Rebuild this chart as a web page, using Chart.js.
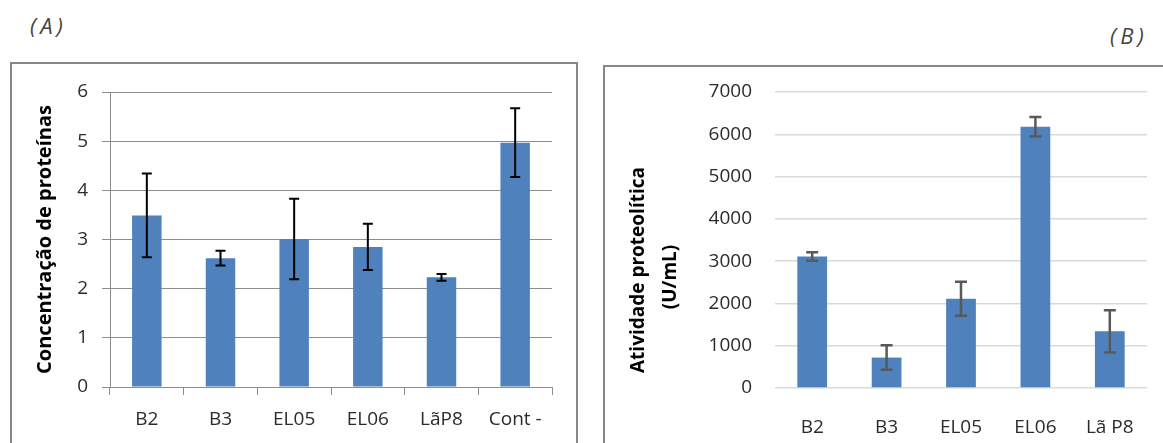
<!DOCTYPE html>
<html><head><meta charset="utf-8">
<script src="https://cdn.jsdelivr.net/npm/chart.js@4/dist/chart.umd.min.js"></script>
<style>
html,body{margin:0;padding:0;background:#fff;width:1163px;height:443px;overflow:hidden;}
.box{position:absolute;border:2px solid #878787;box-sizing:border-box;}
#boxA{left:10px;top:62px;width:568px;height:420px;}
#boxB{left:603px;top:65px;width:600px;height:420px;}
.lab{position:absolute;font-family:"Open Sans";font-style:italic;font-size:22px;letter-spacing:4px;color:#444;line-height:1;}
.wrap{position:absolute;top:0;height:443px;}
</style></head><body>
<div class="box" id="boxA"></div><div class="box" id="boxB"></div>
<div class="lab" style="left:30px;top:14px">(A)</div>
<div class="lab" style="left:1110px;top:24px">(B)</div>
<div class="wrap" style="left:0;width:580px"><canvas id="ca" width="580" height="443"></canvas></div>
<div class="wrap" style="left:590px;width:573px"><canvas id="cb" width="573" height="443"></canvas></div>
<script>
// ---- data ----
const catsA = ['B2', 'B3', 'EL05', 'EL06', 'LãP8', 'Cont -'];
const valsA = [3.49, 2.62, 3.01, 2.85, 2.23, 4.97];
const errA  = [0.85, 0.15, 0.82, 0.47, 0.07, 0.70];
const titleA = 'Concentração de proteínas';

const catsB = ['B2', 'B3', 'EL05', 'EL06', 'Lã P8'];
const valsB = [3110, 720, 2110, 6180, 1340];
const errB  = [100, 290, 400, 230, 500];
const titleB = ['Atividade proteolítica', '(U/mL)'];

const FONT = 'Open Sans';

const errPlugin = {
  id: 'errbars',
  afterDatasetsDraw(chart, args, opts) {
    const meta = chart.getDatasetMeta(0);
    const ys = chart.scales.y;
    const ctx = chart.ctx;
    const vals = chart.data.datasets[0].data;
    const errs = opts.errors;
    ctx.save();
    ctx.strokeStyle = opts.color;
    ctx.lineWidth = opts.width;
    meta.data.forEach((bar, i) => {
      const x = bar.x;
      const yt = ys.getPixelForValue(vals[i] + errs[i]);
      const yb = ys.getPixelForValue(vals[i] - errs[i]);
      ctx.beginPath();
      ctx.moveTo(x, yt); ctx.lineTo(x, yb);
      ctx.moveTo(x - opts.cap, yt); ctx.lineTo(x + opts.cap, yt);
      ctx.moveTo(x - opts.cap, yb); ctx.lineTo(x + opts.cap, yb);
      ctx.stroke();
    });
    ctx.restore();
  }
};

const titleBPlugin = {
  id: 'titleB',
  afterDraw(chart, args, opts) {
    if (!opts.lines) return;
    const ctx = chart.ctx;
    ctx.save();
    ctx.font = 'bold 19px "' + FONT + '"';
    ctx.fillStyle = '#000';
    ctx.textAlign = 'center';
    ctx.textBaseline = 'middle';
    opts.lines.forEach((t, i) => {
      ctx.save();
      ctx.translate(opts.xs[i], opts.ys[i]);
      ctx.rotate(-Math.PI / 2);
      ctx.fillText(t, 0, 0);
      ctx.restore();
    });
    ctx.restore();
  }
};

Chart.register(errPlugin, titleBPlugin);

const tickFont = {family: FONT, size: 19};

new Chart(document.getElementById('ca'), {
  type: 'bar',
  data: {labels: catsA, datasets: [{data: valsA, backgroundColor: '#4f81bd', categoryPercentage: 1, barPercentage: 0.4}]},
  options: {
    responsive: false, animation: false, devicePixelRatio: 1,
    layout: {padding: {left: 20, right: 28, top: 92, bottom: 0}},
    plugins: {legend: {display: false}, tooltip: {enabled: false},
      errbars: {errors: errA, color: '#000', width: 2, cap: 5}},
    scales: {
      x: {ticks: {color: '#2b2b2b', font: tickFont, padding: 13},
          grid: {offset: true, drawOnChartArea: false, drawTicks: true, tickLength: 8, color: '#8e8e8e'},
          border: {display: true, color: '#8e8e8e'},
          afterFit(s) { s.height = 56; }},
      y: {min: 0, max: 6,
          ticks: {stepSize: 1, color: '#2b2b2b', font: tickFont, padding: 14},
          grid: {color: '#8e8e8e', tickLength: 8, drawTicks: true},
          border: {display: true, color: '#8e8e8e'},
          title: {display: true, text: titleA, color: '#000', font: {family: FONT, size: 20, weight: 'bold'}, padding: {top: 13, bottom: 0}},
          afterFit(s) { s.width = 90; }}
    }
  }
});

new Chart(document.getElementById('cb'), {
  type: 'bar',
  data: {labels: catsB, datasets: [{data: valsB, backgroundColor: '#4f81bd', categoryPercentage: 1, barPercentage: 0.4}]},
  options: {
    responsive: false, animation: false, devicePixelRatio: 1,
    layout: {padding: {left: 10, right: 16, top: 92, bottom: 0}},
    plugins: {legend: {display: false}, tooltip: {enabled: false},
      errbars: {errors: errB, color: '#595959', width: 2.5, cap: 6},
      titleB: {lines: titleB, xs: [49, 81], ys: [270, 277]}},
    scales: {
      x: {ticks: {color: '#2b2b2b', font: tickFont, padding: 20},
          grid: {display: false}, border: {display: false},
          afterFit(s) { s.height = 55; }},
      y: {min: 0, max: 7000,
          ticks: {stepSize: 1000, color: '#2b2b2b', font: tickFont, padding: 23, callback: v => String(v)},
          grid: {color: '#d9d9d9', lineWidth: 1.5, drawTicks: false},
          border: {display: false},
          afterFit(s) { s.width = 175; }}
    }
  }
});
</script>
</body></html>
